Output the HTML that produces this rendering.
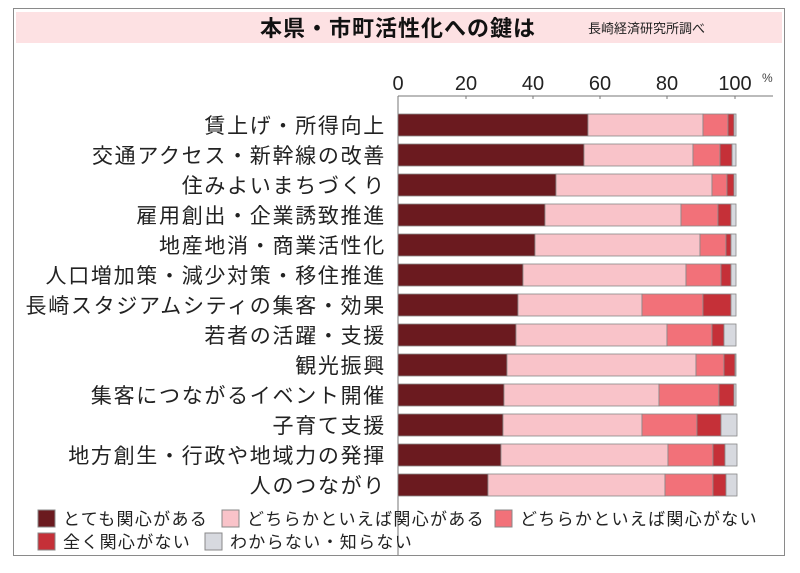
<!DOCTYPE html>
<html><head><meta charset="utf-8"><style>
body{margin:0;background:#fff;}
svg text{font-family:"Liberation Sans","Noto Sans CJK JP",sans-serif;}
</style></head><body>
<svg width="800" height="568" viewBox="0 0 800 568" xmlns="http://www.w3.org/2000/svg">
<rect x="13.5" y="8.5" width="771" height="547" fill="#fff" stroke="#8a8a8a" stroke-width="1"/>
<rect x="16" y="12" width="766" height="31" fill="#fde1e3"/>
<text x="398" y="36" text-anchor="middle" font-size="22" font-weight="bold" fill="#111" letter-spacing="1">本県・市町活性化への鍵は</text>
<text x="588" y="33" font-size="13" fill="#222">長崎経済研究所調べ</text>
<g font-size="20" fill="#222" text-anchor="middle">
<text x="398" y="90">0</text><text x="466" y="90">20</text><text x="533" y="90">40</text><text x="600" y="90">60</text><text x="667" y="90">80</text><text x="735" y="90">100</text>
</g>
<text x="762" y="82" font-size="12" fill="#444">%</text>
<line x1="398" y1="96" x2="773" y2="96" stroke="#777" stroke-width="1"/>
<g stroke="#777"><line x1="466" y1="96" x2="466" y2="99"/><line x1="533" y1="96" x2="533" y2="99"/><line x1="600" y1="96" x2="600" y2="99"/><line x1="667" y1="96" x2="667" y2="99"/><line x1="735" y1="96" x2="735" y2="99"/></g>
<line x1="398" y1="96" x2="398" y2="555" stroke="#777" stroke-width="1"/>
<g id="bars" stroke="#888" stroke-width="0.8"></g>
<g font-size="21" fill="#222" text-anchor="end" letter-spacing="1.7" id="labels"></g>
<g font-size="17" fill="#222" letter-spacing="1.3">
<rect x="38" y="510" width="17" height="17" fill="#6b1a1f" stroke="#888"/><text x="63" y="525">とても関心がある</text>
<rect x="222" y="510" width="17" height="17" fill="#f9c3c9" stroke="#888"/><text x="247" y="525">どちらかといえば関心がある</text>
<rect x="495" y="510" width="17" height="17" fill="#f27179" stroke="#888"/><text x="520" y="525">どちらかといえば関心がない</text>
<rect x="38" y="533" width="17" height="17" fill="#c53038" stroke="#888"/><text x="63" y="548">全く関心がない</text>
<rect x="205" y="533" width="17" height="17" fill="#d7d9df" stroke="#888"/><text x="230" y="548">わからない・知らない</text>
</g>
<script>
var d=[["賃上げ・所得向上",588,703,728,734,736],["交通アクセス・新幹線の改善",584,693,720,732,736],["住みよいまちづくり",556,712,727,734,736],["雇用創出・企業誘致推進",545,681,718,731,736],["地産地消・商業活性化",535,700,726,731,736],["人口増加策・減少対策・移住推進",523,686,721,731,736],["長崎スタジアムシティの集客・効果",518,642,703,731,736],["若者の活躍・支援",516,667,712,724,736],["観光振興",507,696,724,735,736],["集客につながるイベント開催",504,659,719,734,736],["子育て支援",503,642,697,721,737],["地方創生・行政や地域力の発揮",501,668,713,725,737],["人のつながり",488,665,713,726,737]];
var c=["#6b1a1f","#f9c3c9","#f27179","#c53038","#d7d9df"];
var ns="http://www.w3.org/2000/svg",b=document.getElementById("bars"),l=document.getElementById("labels");
d.forEach(function(r,i){var y=114+i*30,x=398;for(var k=0;k<5;k++){var e=document.createElementNS(ns,"rect");e.setAttribute("x",x);e.setAttribute("y",y);e.setAttribute("width",Math.max(r[k+1]-x,0));e.setAttribute("height",22);e.setAttribute("fill",c[k]);b.appendChild(e);x=r[k+1];}
var t=document.createElementNS(ns,"text");t.setAttribute("x",386);t.setAttribute("y",y+19);t.textContent=r[0];l.appendChild(t);});
</script>
</svg>
</body></html>
